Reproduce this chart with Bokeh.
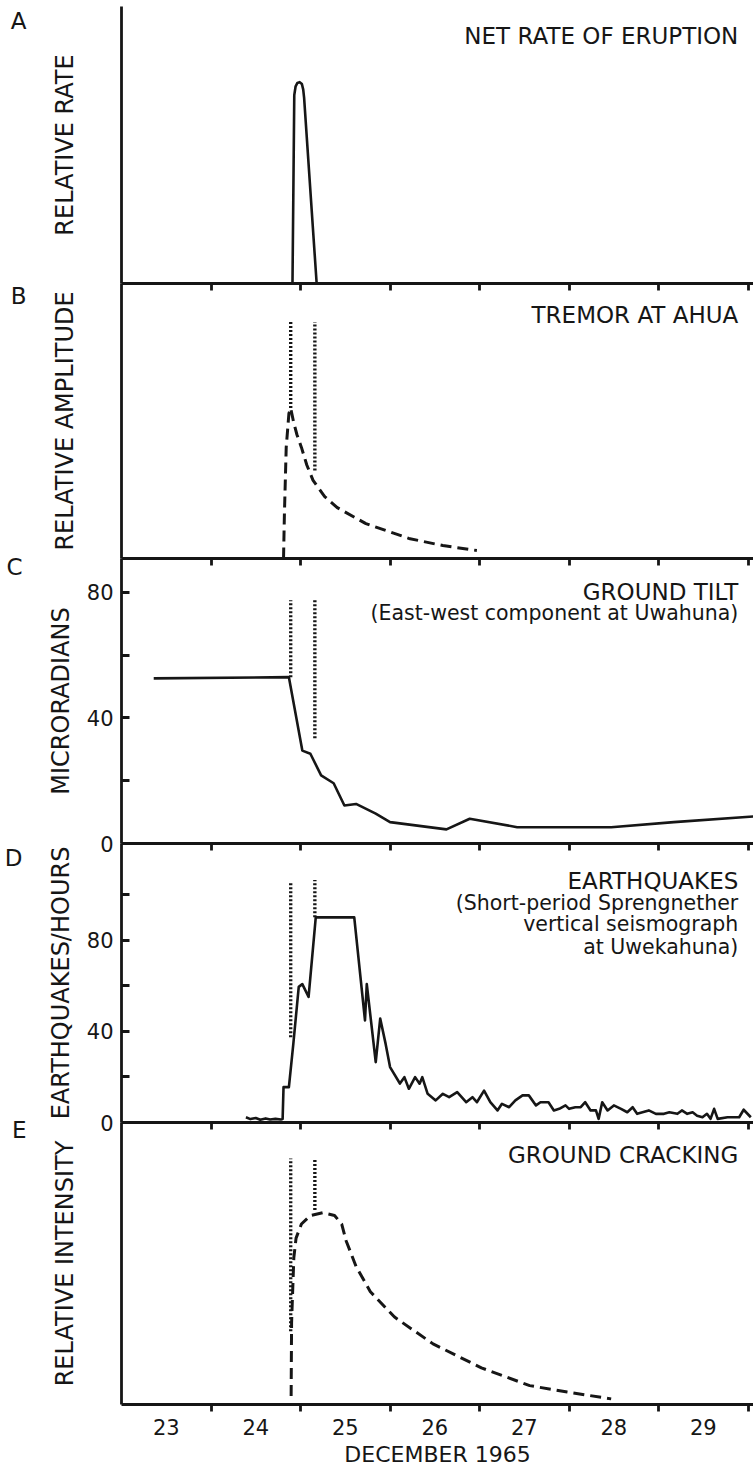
from bokeh.plotting import figure
from bokeh.layouts import column
from bokeh.models import FixedTicker, Label, Range1d, LinearAxis
from bokeh.embed import file_html
from bokeh.resources import INLINE

# ---------------- data ----------------
tick_days = [24, 25, 26, 27, 28, 29, 30]
label_days = [23.5, 24.5, 25.5, 26.5, 27.5, 28.5, 29.5]
day_labels = ["23", "24", "25", "26", "27", "28", "29"]

# A: net rate of eruption (relative)
eruption_day = [24.91, 24.93, 24.945, 24.965, 24.99, 25.015, 25.03, 25.04, 25.18]
eruption_rate = [0.0, 0.68, 0.712, 0.724, 0.727, 0.72, 0.70, 0.67, 0.0]

# B: tremor at Ahua (relative amplitude)
tremor_day = [24.81, 24.82, 24.84, 24.87, 24.89, 24.92, 24.96, 25.01, 25.07, 25.14, 25.27, 25.41,
              25.73, 26.21, 26.59, 26.97]
tremor_amp = [0.0, 0.164, 0.404, 0.527, 0.547, 0.50, 0.45, 0.404, 0.34, 0.284, 0.225, 0.185,
              0.127, 0.073, 0.047, 0.029]

# C: ground tilt (microradians)
tilt_day = [23.36, 24.87, 25.02, 25.11, 25.23, 25.37, 25.49, 25.62, 25.84, 26.00, 26.63, 26.89, 27.42, 28.47, 29.17, 30.06]
tilt_urad = [52.6, 53.0, 29.6, 28.6, 21.7, 19.2, 12.1, 12.6, 9.5, 6.8, 4.5, 7.9, 5.2, 5.2, 6.8, 8.6]

# D: earthquakes per hour
quake_day = [24.39, 24.44, 24.50, 24.55, 24.61, 24.66, 24.72, 24.78, 24.80, 24.81, 24.87, 24.92,
             24.98, 25.02, 25.09, 25.17, 25.60, 25.72, 25.74, 25.84, 25.89, 25.95, 26.00, 26.11,
             26.16, 26.21, 26.28, 26.33, 26.36, 26.42, 26.51, 26.59, 26.66, 26.75, 26.85, 26.92,
             26.97, 27.05, 27.12, 27.20, 27.25, 27.33, 27.40, 27.48, 27.55, 27.63, 27.68, 27.77,
             27.83, 27.89, 27.96, 28.00, 28.07, 28.13, 28.18, 28.24, 28.30, 28.33, 28.37, 28.43,
             28.50, 28.58, 28.65, 28.71, 28.76, 28.82, 28.89, 28.97, 29.06, 29.12, 29.21, 29.26,
             29.32, 29.38, 29.43, 29.49, 29.54, 29.58, 29.62, 29.66, 29.77, 29.90, 29.95, 30.03]
quake_rate = [2.3, 1.5, 2.0, 1.2, 1.8, 1.3, 1.6, 1.3, 1.5, 15.5, 15.5, 34.7,
              59.5, 60.7, 55.1, 90.0, 90.0, 44.8, 60.7, 26.5, 45.6, 34.6, 24.3, 17.1,
              19.9, 14.8, 19.9, 17.0, 19.9, 12.6, 9.7, 12.6, 11.1, 13.3, 8.9, 11.1,
              8.9, 14.0, 8.9, 5.3, 8.2, 6.7, 9.7, 11.9, 11.9, 7.5, 8.9, 8.9,
              5.3, 6.0, 7.5, 6.0, 6.7, 6.7, 8.9, 5.3, 5.3, 1.6, 8.9, 5.3,
              7.5, 6.0, 4.5, 6.7, 3.8, 4.5, 5.3, 3.8, 3.8, 4.5, 3.8, 5.3,
              3.8, 4.5, 3.0, 2.3, 3.8, 1.6, 6.0, 1.6, 2.3, 2.3, 5.6, 2.3]

# E: ground cracking (relative intensity)
crack_day = [24.895, 24.90, 24.925, 24.95, 25.01, 25.11, 25.25, 25.38, 25.46, 25.51, 25.62,
             25.78, 26.05, 26.48, 27.02, 27.56, 27.98, 28.47]
crack_int = [0.03, 0.29, 0.52, 0.59, 0.64, 0.67, 0.68, 0.67, 0.64, 0.58, 0.49,
             0.40, 0.31, 0.215, 0.13, 0.067, 0.044, 0.02]

# dotted time markers (day) and their extents in each panel
marker_day = [24.89, 25.16]
tremor_marker_top = [0.86, 0.86]
tremor_marker_bottom = [0.547, 0.32]
tilt_marker_top = [77.5, 77.5]
tilt_marker_bottom = [53.0, 33.5]
quake_marker_top = [105.7, 106.4]
quake_marker_bottom = [37.4, 90.0]
crack_marker_top = [0.872, 0.872]
crack_marker_bottom = [0.26, 0.69]

tilt_ticks = [0, 40, 80]
tilt_minor_ticks = [20, 60]
quake_ticks = [0, 40, 80]
quake_minor_ticks = [20, 60, 100]

panel_letters = ["A", "B", "C", "D", "E"]
panel_titles = [
    ["NET RATE OF ERUPTION"],
    ["TREMOR AT AHUA"],
    ["GROUND TILT", "(East-west component at Uwahuna)"],
    ["EARTHQUAKES", "(Short-period Sprengnether", "vertical seismograph", "at Uwekahuna)"],
    ["GROUND CRACKING"],
]
y_labels = ["RELATIVE RATE", "RELATIVE AMPLITUDE", "MICRORADIANS",
            "EARTHQUAKES/HOURS", "RELATIVE INTENSITY"]
x_label = "DECEMBER 1965"

# ---------------- styling ----------------
FONT = "DejaVu Sans"
INK = "#161616"
W = 753
LEFT = 121
X0, X1 = 23.0, 30.06
LW = 2.6
AXW = 2.8
DOT = "2 2"
DOTW = 3.4
DASH = "11 6"


def make_panel(height, top, bottom, y_end, ylabel, yticks, yminor, letter, letter_y,
               titles, title_ys, overlap, last=False):
    p = figure(width=W, height=height, x_range=Range1d(X0, X1), y_range=Range1d(0, y_end),
               output_backend="svg", toolbar_location=None, tools="",
               min_border_left=LEFT, min_border_right=0,
               min_border_top=top, min_border_bottom=bottom,
               x_axis_location=None, y_axis_location=None,
               margin=(overlap, 0, 0, 0))
    p.outline_line_color = None
    p.background_fill_color = None
    p.border_fill_color = None
    p.xgrid.visible = False
    p.ygrid.visible = False

    xax = LinearAxis(ticker=FixedTicker(ticks=label_days if last else [], minor_ticks=tick_days))
    xax.axis_line_width = AXW
    xax.axis_line_color = INK
    xax.major_tick_in = 0
    xax.major_tick_out = 0
    xax.minor_tick_in = 0
    xax.minor_tick_out = 7
    xax.minor_tick_line_width = AXW
    xax.minor_tick_line_color = INK
    xax.major_label_text_font = FONT
    xax.major_label_text_color = INK
    xax.major_label_text_font_size = "21px"
    if last:
        xax.major_label_overrides = {d: s for d, s in zip(label_days, day_labels)}
        xax.major_label_standoff = 7
        xax.axis_label = x_label
        xax.axis_label_text_font = FONT
        xax.axis_label_text_font_style = "normal"
        xax.axis_label_text_font_size = "22px"
        xax.axis_label_text_color = INK
        xax.axis_label_standoff = 4
    else:
        xax.major_label_standoff = 0
    p.add_layout(xax, "below")

    yax = LinearAxis(ticker=FixedTicker(ticks=yticks, minor_ticks=yminor), axis_label=ylabel)
    yax.axis_line_width = AXW
    yax.axis_line_color = INK
    yax.major_tick_in = 8
    yax.major_tick_out = 0
    yax.minor_tick_in = 8
    yax.minor_tick_out = 0
    yax.major_tick_line_width = AXW
    yax.minor_tick_line_width = AXW
    yax.major_tick_line_color = INK
    yax.minor_tick_line_color = INK
    yax.major_label_text_font = FONT
    yax.major_label_text_font_size = "21px"
    yax.major_label_text_color = INK
    yax.axis_label_text_font = FONT
    yax.axis_label_text_font_style = "normal"
    yax.axis_label_text_font_size = "24px"
    yax.axis_label_text_color = INK
    if yticks:
        yax.major_label_standoff = 8
        yax.axis_label_standoff = 9
    else:
        yax.major_label_standoff = 0
        yax.axis_label_standoff = 43
    p.add_layout(yax, "left")

    # panel letter, drawn as the single tick label of an outer, line-less axis
    lax = LinearAxis(ticker=FixedTicker(ticks=[letter_y], minor_ticks=[]))
    lax.major_label_overrides = {letter_y: letter}
    lax.axis_line_color = None
    lax.major_tick_line_color = None
    lax.minor_tick_line_color = None
    lax.major_tick_in = 0
    lax.major_tick_out = 0
    lax.major_label_standoff = 21
    lax.major_label_text_font = FONT
    lax.major_label_text_font_size = "23px"
    lax.major_label_text_color = INK
    p.add_layout(lax, "left")

    for t, ty in zip(titles, title_ys):
        upper = t.upper() == t
        p.add_layout(Label(x=29.89, y=ty, text=t, text_align="right", text_baseline="middle",
                           text_font=FONT, text_font_size="23px" if upper else "20.5px",
                           text_color=INK))
    return p


pa = make_panel(298, 6, 15, 1.0, y_labels[0], [], [], panel_letters[0], 0.949,
                panel_titles[0], [0.892], 0)
pa.line(eruption_day, eruption_rate, line_color=INK, line_width=LW, line_join="round")

pb = make_panel(305, 15, 15, 1.0, y_labels[1], [], [], panel_letters[1], 0.956,
                panel_titles[1], [0.884], -30)
pb.line(tremor_day, tremor_amp, line_color=INK, line_width=3, line_dash=DASH)
pb.segment(x0=marker_day, y0=tremor_marker_bottom, x1=marker_day, y1=tremor_marker_top,
           line_color=INK, line_width=DOTW, line_dash=DOT)

pc = make_panel(315, 15, 15, 90.8, y_labels[2], tilt_ticks, tilt_minor_ticks, panel_letters[2], 88.0,
                panel_titles[2], [80.0, 73.3], -30)
pc.line(tilt_day, tilt_urad, line_color=INK, line_width=LW, line_join="round")
pc.segment(x0=marker_day, y0=tilt_marker_bottom, x1=marker_day, y1=tilt_marker_top,
           line_color=INK, line_width=DOTW, line_dash=DOT)

pd = make_panel(309, 15, 15, 122.4, y_labels[3], quake_ticks, quake_minor_ticks, panel_letters[3], 116.2,
                panel_titles[3], [106.1, 96.5, 87.3, 76.8], -30)
pd.line(quake_day, quake_rate, line_color=INK, line_width=LW, line_join="round")
pd.segment(x0=marker_day, y0=quake_marker_bottom, x1=marker_day, y1=quake_marker_top,
           line_color=INK, line_width=DOTW, line_dash=DOT)

pe = make_panel(367, 15, 70, 1.0, y_labels[4], [], [], panel_letters[4], 0.972,
                panel_titles[4], [0.883], -30, last=True)
pe.line(crack_day, crack_int, line_color=INK, line_width=3, line_dash=DASH)
pe.segment(x0=marker_day, y0=crack_marker_bottom, x1=marker_day, y1=crack_marker_top,
           line_color=INK, line_width=DOTW, line_dash=DOT)

layout = column(pa, pb, pc, pd, pe, spacing=0)
open("out.html", "w").write(file_html(layout, INLINE))
